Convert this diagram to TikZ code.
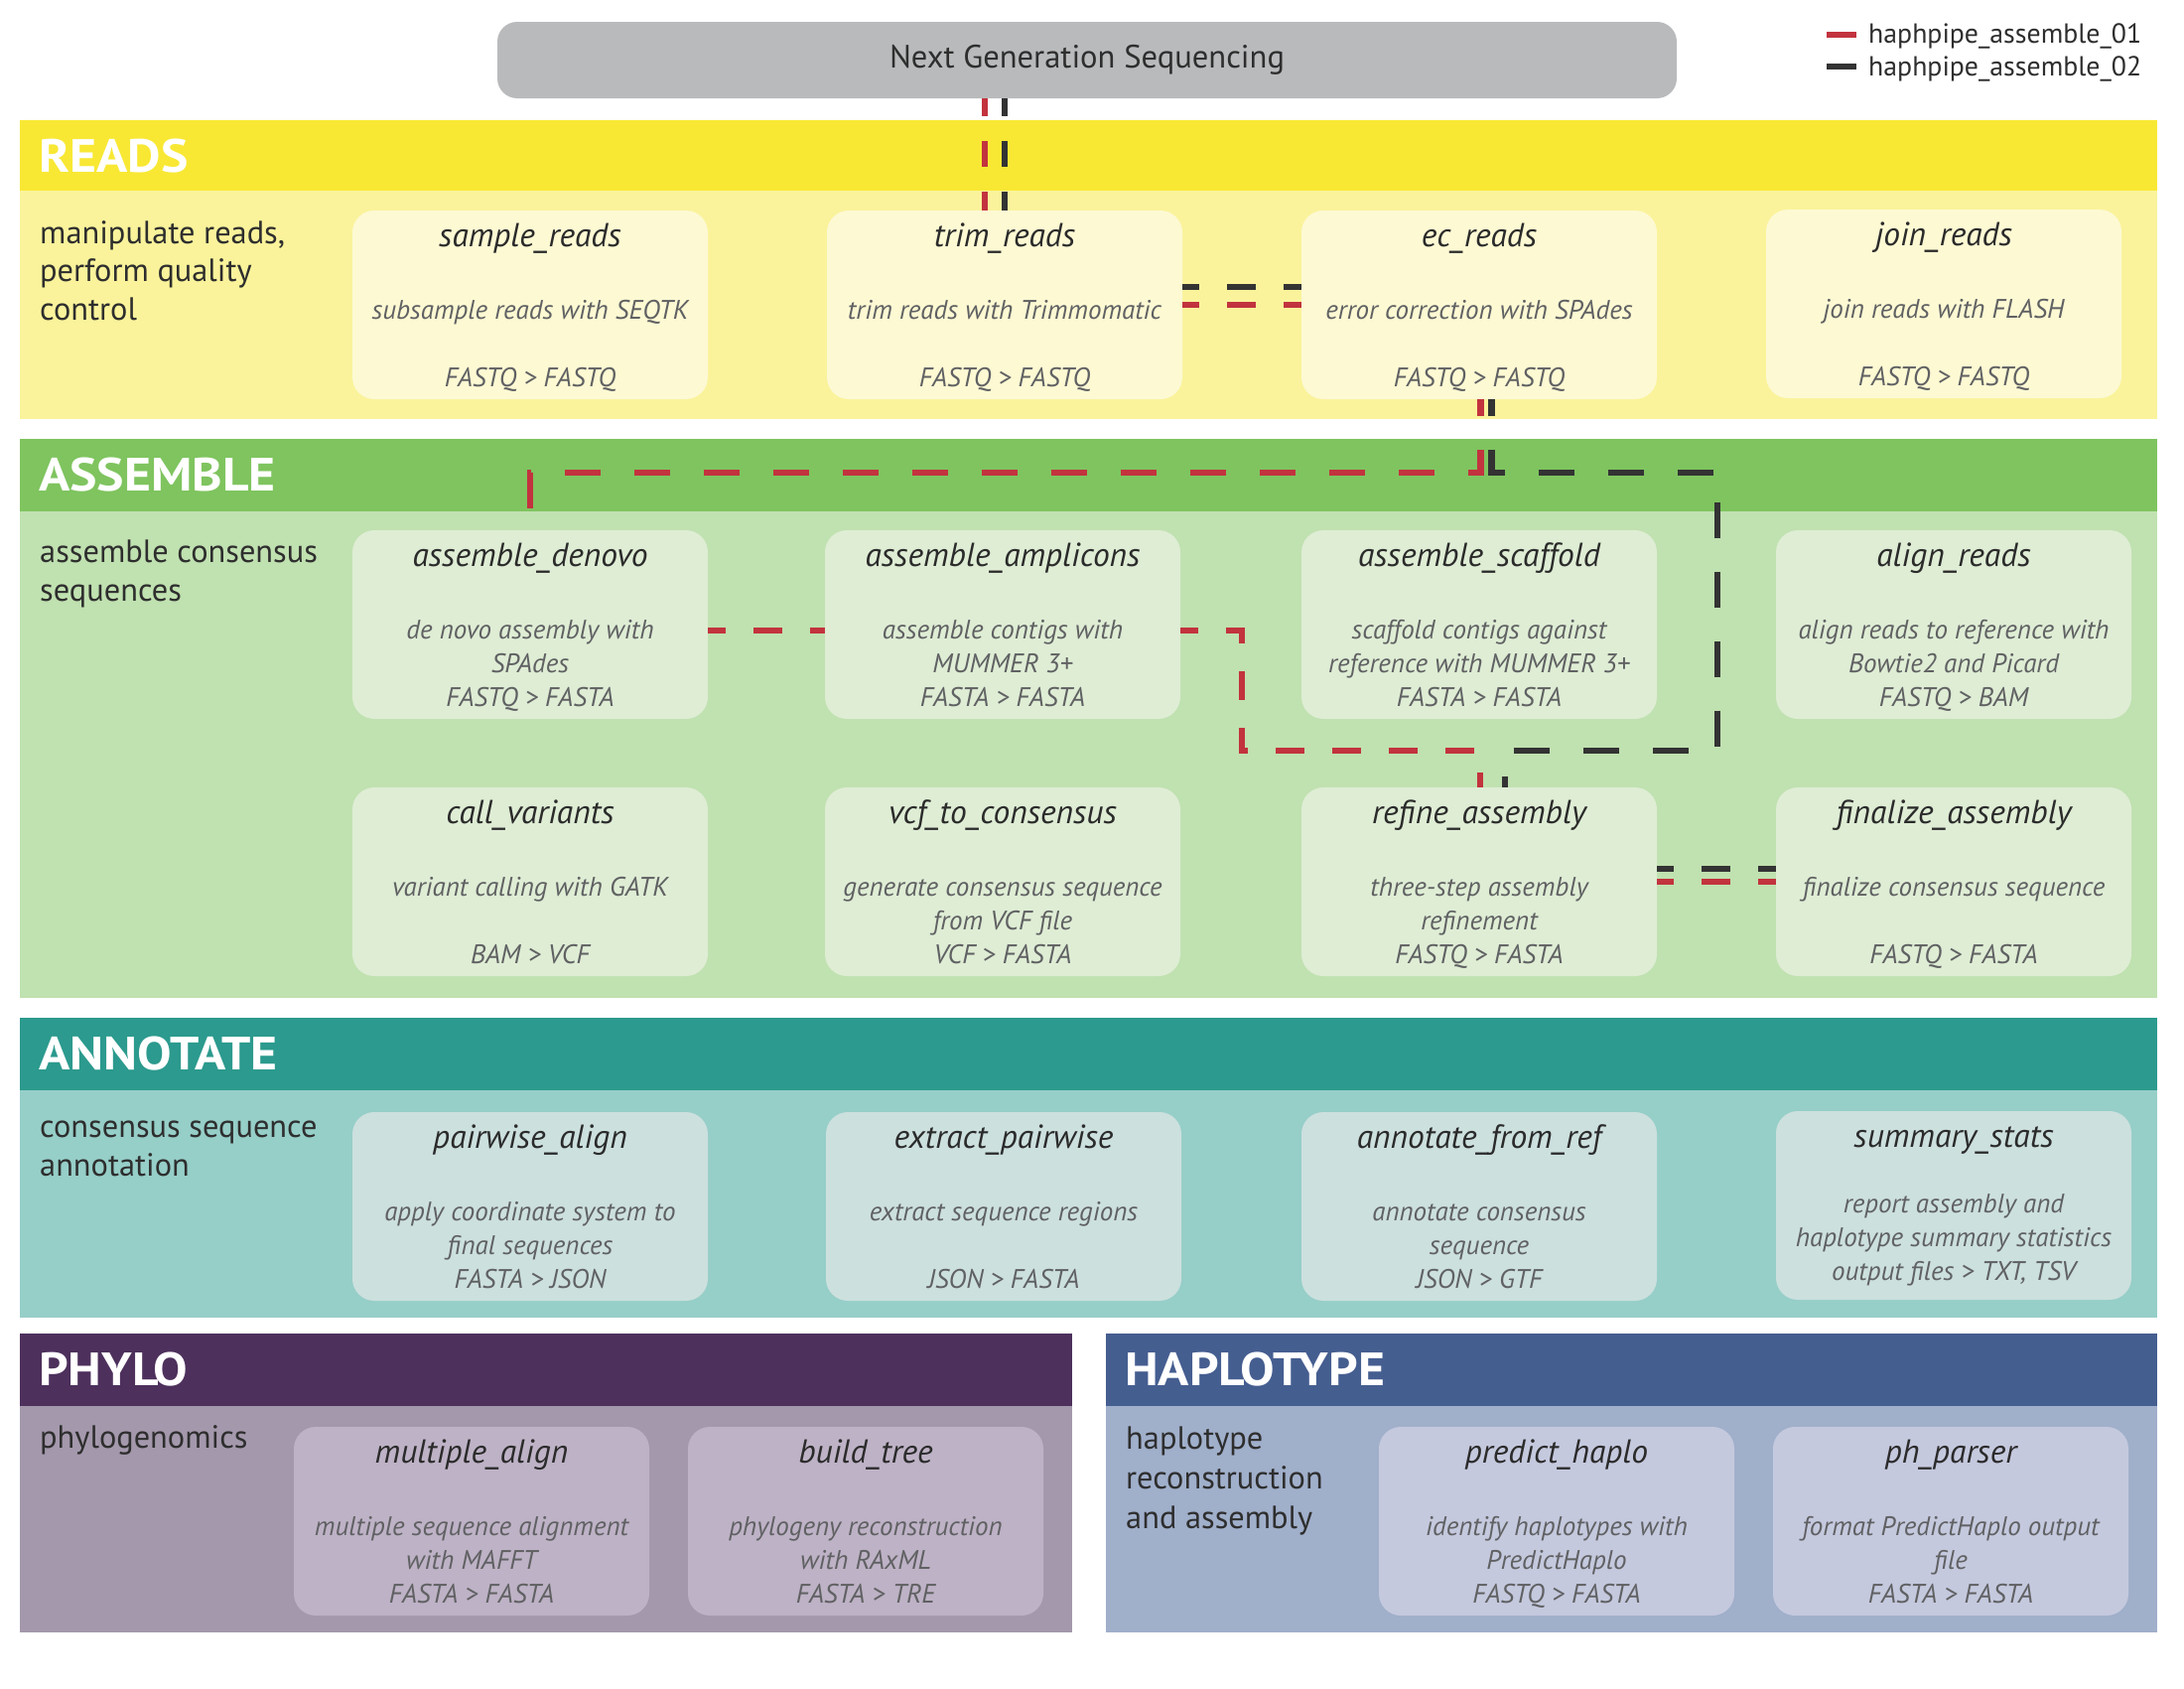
\documentclass[tikz,border=0pt]{standalone}
\usepackage{fontspec}
\setmainfont{PT Sans}
\newfontfamily\headfont[FakeStretch=1.1]{PT Sans}
\usetikzlibrary{calc}

% palette
\definecolor{ngsgray}{HTML}{B9BABC}
\definecolor{rdHead}{HTML}{F8E834}
\definecolor{rdBody}{HTML}{FAF39B}
\definecolor{rdNode}{HTML}{FDF9D3}
\definecolor{asHead}{HTML}{7FC45F}
\definecolor{asBody}{HTML}{C0E1B0}
\definecolor{asNode}{HTML}{DEEDD4}
\definecolor{anHead}{HTML}{2C9A8E}
\definecolor{anBody}{HTML}{96CEC8}
\definecolor{anNode}{HTML}{CCE0DE}
\definecolor{phHead}{HTML}{4D305C}
\definecolor{phBody}{HTML}{A498AC}
\definecolor{phNode}{HTML}{BEB2C6}
\definecolor{haHead}{HTML}{455E90}
\definecolor{haBody}{HTML}{A0AFCA}
\definecolor{haNode}{HTML}{C5C9DE}
\definecolor{pipeA}{HTML}{C2333E}
\definecolor{pipeB}{HTML}{333333}
\definecolor{titleInk}{HTML}{2B2B2B}
\definecolor{descInk}{HTML}{606163}
\definecolor{labelInk}{HTML}{2E2E2E}

\tikzset{
  band/.style={inner sep=0pt, outer sep=0pt, draw=none, anchor=north west},
  headtext/.style={anchor=base west, inner sep=0pt, text=white, font=\headfont\fontsize{47}{50}\selectfont\bfseries},
  sectext/.style={anchor=base west, inner sep=0pt, text=labelInk, font=\fontsize{32.4}{37}\selectfont},
  procbox/.style={inner sep=0pt, outer sep=0pt, draw=none, rounded corners=22pt,
                  minimum width=358pt, minimum height=190pt},
  proctitle/.style={anchor=base, inner sep=0pt, text=titleInk, font=\fontsize{33.5}{38}\selectfont\itshape},
  procdesc/.style={anchor=base, inner sep=0pt, text=descInk, font=\fontsize{27}{32}\selectfont\itshape},
  pipe/.style={line width=6.5pt},
  pipeone/.style={pipe, draw=pipeA},
  pipetwo/.style={pipe, draw=pipeB},
  dshort/.style={dash pattern=on 29pt off 28pt},
  dlong/.style={dash pattern=on 36pt off 34pt},
}

% process box: name, left x, top y, fill, title, line 1, line 2, line 3, lift of the lines
\newcommand{\procnode}[9]{%
  \node[procbox, fill=#4] (#1) at (#2+179,#3+95) {};
  \node[proctitle] (#1-t) at (#2+179,#3+36) {#5};
  \node[procdesc] (#1-a) at (#2+179,#3+109-#9) {#6};
  \node[procdesc] (#1-b) at (#2+179,#3+143-#9) {#7};
  \node[procdesc] (#1-c) at (#2+179,#3+177-#9) {#8};
}

\begin{document}
\begin{tikzpicture}[x=1pt,y=-1pt]
\useasboundingbox (0,0) rectangle (2200,1700);
\fill[white] (0,0) rectangle (2200,1700);

% ---- section bands ----
\node[band, fill=rdHead, minimum width=2153pt, minimum height=71pt]  (readsH) at (20,121) {};
\node[band, fill=rdBody, minimum width=2153pt, minimum height=230pt] (readsB) at (20,192) {};
\node[band, fill=asHead, minimum width=2153pt, minimum height=73pt]  (asmH) at (20,442) {};
\node[band, fill=asBody, minimum width=2153pt, minimum height=490pt] (asmB) at (20,515) {};
\node[band, fill=anHead, minimum width=2153pt, minimum height=73pt]  (annH) at (20,1025) {};
\node[band, fill=anBody, minimum width=2153pt, minimum height=229pt] (annB) at (20,1098) {};
\node[band, fill=phHead, minimum width=1060pt, minimum height=73pt]  (phyH) at (20,1343) {};
\node[band, fill=phBody, minimum width=1060pt, minimum height=228pt] (phyB) at (20,1416) {};
\node[band, fill=haHead, minimum width=1059pt, minimum height=73pt]  (hapH) at (1114,1343) {};
\node[band, fill=haBody, minimum width=1059pt, minimum height=228pt] (hapB) at (1114,1416) {};

% ---- section headings and captions ----
\node[headtext] (readsT) at (39,173) {READS};
\node[headtext] (asmT) at (39,494) {ASSEMBLE};
\node[headtext] (annT) at (39,1077) {ANNOTATE};
\node[headtext] (phyT) at (39,1395) {PHYLO};
\node[headtext] (hapT) at (1133,1395) {HAPLOTYPE};

\node[sectext] (readsL1) at (40,245) {manipulate reads,};
\node[sectext] (readsL2) at (40,283) {perform quality};
\node[sectext] (readsL3) at (40,322) {control};
\node[sectext] (asmL1) at (40,566) {assemble consensus};
\node[sectext] (asmL2) at (40,605) {sequences};
\node[sectext] (annL1) at (40,1145) {consensus sequence};
\node[sectext] (annL2) at (40,1184) {annotation};
\node[sectext] (phyL1) at (40,1458) {phylogenomics};
\node[sectext] (hapL1) at (1134,1459) {haplotype};
\node[sectext] (hapL2) at (1134,1499) {reconstruction};
\node[sectext] (hapL3) at (1134,1539) {and assembly};

% ---- source box ----
\node[fill=ngsgray, rounded corners=20pt, minimum width=1188pt, minimum height=77pt, inner sep=0pt] (ngs) at (1095,60.5) {};
\node[anchor=base, inner sep=0pt, text=labelInk, font=\fontsize{32.6}{37}\selectfont] (ngsT) at (1095,68) {Next Generation Sequencing};

% ---- legend ----
\coordinate (legA1) at (1840,35); \coordinate (legA2) at (1870,35);
\coordinate (legB1) at (1840,67); \coordinate (legB2) at (1870,67);
\draw[pipeone, line width=6pt] (legA1) -- (legA2);
\draw[pipetwo, line width=6pt] (legB1) -- (legB2);
\node[anchor=base west, inner sep=0pt, text=labelInk, font=\fontsize{27.8}{31}\selectfont] (legAT) at (1882,43) {haphpipe\_assemble\_01};
\node[anchor=base west, inner sep=0pt, text=labelInk, font=\fontsize{27.8}{31}\selectfont] (legBT) at (1882,76) {haphpipe\_assemble\_02};

% ---- READS ----
\procnode{sample}{355}{212}{rdNode}{sample\_reads}{subsample reads with SEQTK}{}{FASTQ > FASTQ}{0}
\procnode{trim}{833}{212}{rdNode}{trim\_reads}{trim reads with Trimmomatic}{}{FASTQ > FASTQ}{0}
\procnode{ec}{1311}{212}{rdNode}{ec\_reads}{error correction with SPAdes}{}{FASTQ > FASTQ}{0}
\procnode{join}{1779}{211}{rdNode}{join\_reads}{join reads with FLASH}{}{FASTQ > FASTQ}{0}

% ---- ASSEMBLE ----
\procnode{denovo}{355}{534}{asNode}{assemble\_denovo}{de novo assembly with}{SPAdes}{FASTQ > FASTA}{0}
\procnode{amplicons}{831}{534}{asNode}{assemble\_amplicons}{assemble contigs with}{MUMMER 3+}{FASTA > FASTA}{0}
\procnode{scaffold}{1311}{534}{asNode}{assemble\_scaffold}{scaffold contigs against}{reference with MUMMER 3+}{FASTA > FASTA}{0}
\procnode{align}{1789}{534}{asNode}{align\_reads}{align reads to reference with}{Bowtie2 and Picard}{FASTQ > BAM}{0}
\procnode{callvar}{355}{793}{asNode}{call\_variants}{variant calling with GATK}{}{BAM > VCF}{0}
\procnode{vcfcons}{831}{793}{asNode}{vcf\_to\_consensus}{generate consensus sequence}{from VCF file}{VCF > FASTA}{0}
\procnode{refine}{1311}{793}{asNode}{refine\_assembly}{three-step assembly}{refinement}{FASTQ > FASTA}{0}
\procnode{finalize}{1789}{793}{asNode}{finalize\_assembly}{finalize consensus sequence}{}{FASTQ > FASTA}{0}

% ---- ANNOTATE ----
\procnode{pairwise}{355}{1120}{anNode}{pairwise\_align}{apply coordinate system to}{final sequences}{FASTA > JSON}{0}
\procnode{extract}{832}{1120}{anNode}{extract\_pairwise}{extract sequence regions}{}{JSON > FASTA}{0}
\procnode{annref}{1311}{1120}{anNode}{annotate\_from\_ref}{annotate consensus}{sequence}{JSON > GTF}{0}
\procnode{summary}{1789}{1119}{anNode}{summary\_stats}{report assembly and}{haplotype summary statistics}{output files > TXT, TSV}{7}

% ---- PHYLO ----
\procnode{multalign}{296}{1437}{phNode}{multiple\_align}{multiple sequence alignment}{with MAFFT}{FASTA > FASTA}{0}
\procnode{buildtree}{693}{1437}{phNode}{build\_tree}{phylogeny reconstruction}{with RAxML}{FASTA > TRE}{0}

% ---- HAPLOTYPE ----
\procnode{predhaplo}{1389}{1437}{haNode}{predict\_haplo}{identify haplotypes with}{PredictHaplo}{FASTQ > FASTA}{0}
\procnode{phparser}{1786}{1437}{haNode}{ph\_parser}{format PredictHaplo output}{file}{FASTA > FASTA}{0}

% ---- pipeline connectors ----
\coordinate (hdrLane) at (0,476);
\coordinate (eastTurn) at (1730,476);
\coordinate (lowLaneB) at (1516,756);
\coordinate (ampTurn) at (1251,756);

% sequencing reads into trimming
\draw[pipeone, dash pattern=on 26pt off 25pt, dash phase=8pt]
  ([xshift=-20pt]trim.north |- ngs.south) -- ([xshift=-20pt]trim.north);
\draw[pipetwo, dash pattern=on 26pt off 25pt, dash phase=8pt]
  (trim.north |- ngs.south) -- (trim.north);

% trimming into error correction
\draw[pipetwo, dshort, dash phase=12pt] ([yshift=18pt]trim.east) -- ([yshift=18pt]trim.east -| ec.west);
\draw[pipeone, dshort, dash phase=12pt] (trim.east) -- (trim.east -| ec.west);

% pipeline 01: error correction -> de novo -> amplicons -> refinement
\draw[pipeone, dlong, dash phase=19pt]
  ([xshift=1.5pt]ec.south) |- (denovo.north |- hdrLane) -- (denovo.north);
\draw[pipeone, dshort, dash phase=11pt]
  ([yshift=-6pt]denovo.east) -- ([yshift=-6pt]denovo.east -| amplicons.west);
\draw[pipeone, dshort, dash phase=11pt]
  ([yshift=-6pt]amplicons.east) -| (ampTurn) -| ([xshift=1pt]refine.north);

% pipeline 02: error correction -> refinement
\draw[pipetwo, dlong, dash phase=19pt]
  ([xshift=12.5pt]ec.south) |- (eastTurn) |- (lowLaneB) -- ([xshift=26pt]refine.north);

% refinement into finalisation
\draw[pipetwo, dshort, dash phase=12pt] ([yshift=13pt]refine.east) -- ([yshift=13pt]refine.east -| finalize.west);
\draw[pipeone, dshort, dash phase=12pt] (refine.east) -- (refine.east -| finalize.west);

\end{tikzpicture}
\end{document}
